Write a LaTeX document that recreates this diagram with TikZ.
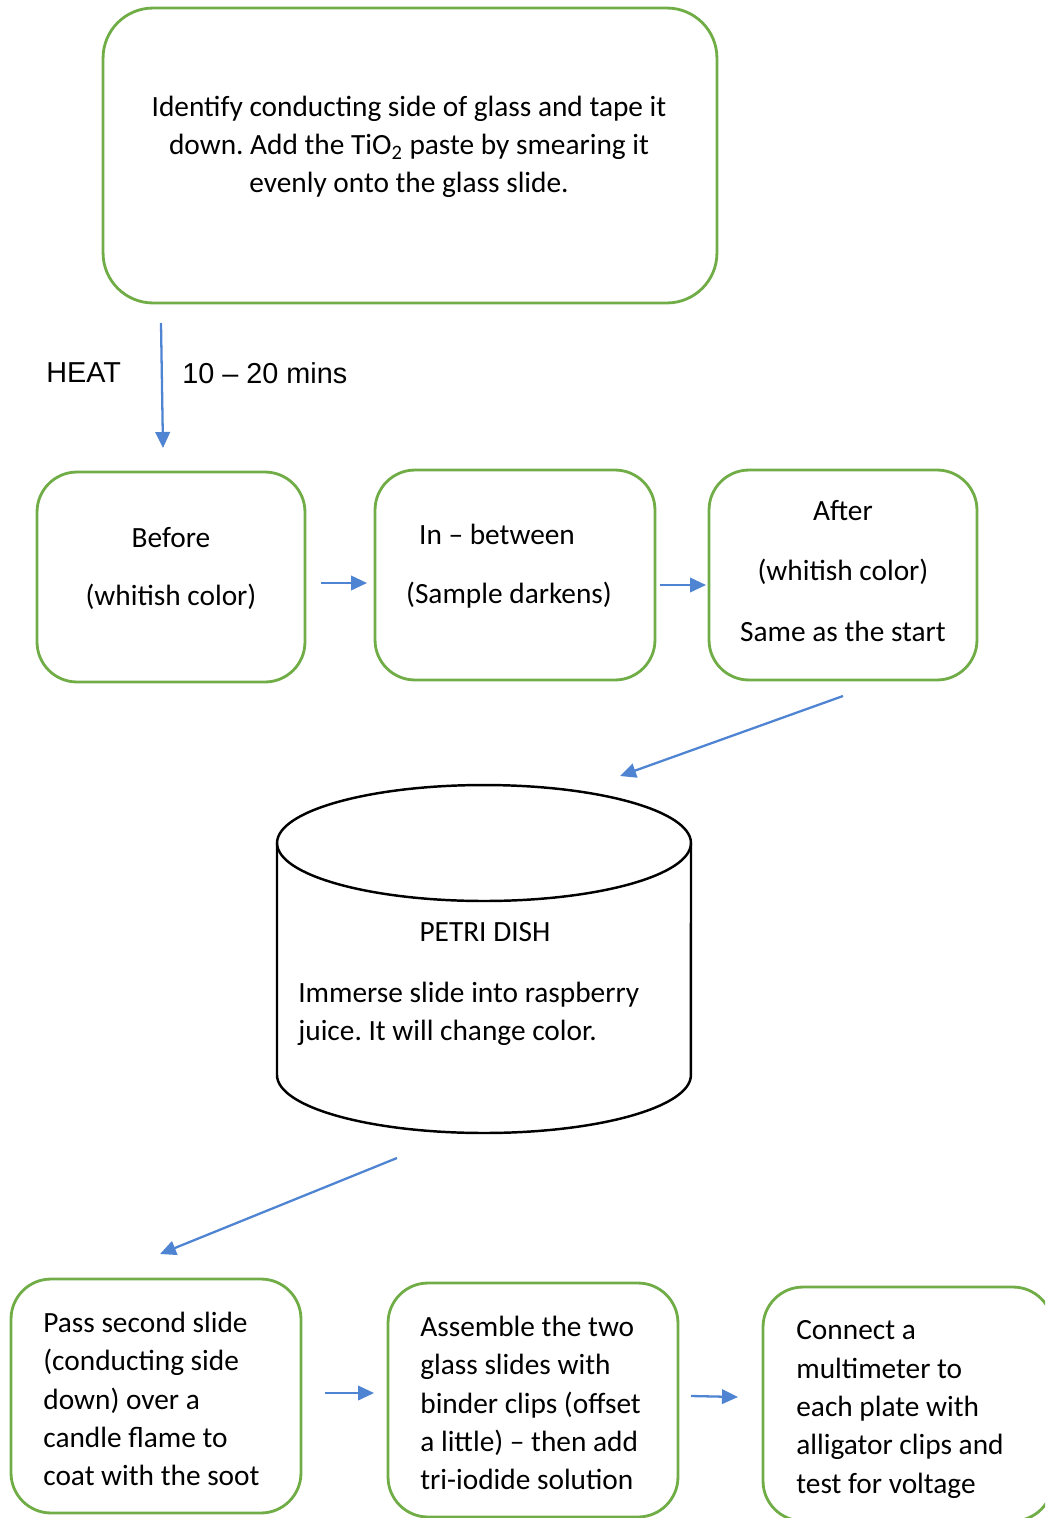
\documentclass[tikz,border=0pt]{standalone}
\usepackage{fontspec}
\setmainfont{Carlito}
\newfontfamily\arialfont{Liberation Sans}
\usetikzlibrary{arrows.meta}

\definecolor{boxgreen}{RGB}{112,173,71}
\definecolor{arrowblue}{RGB}{79,132,210}

\tikzset{
  stepbox/.style={draw=boxgreen, line width=1.6pt, rounded corners=0.8cm, inner sep=0pt},
  flow/.style={draw=arrowblue, line width=1.3pt, -{Triangle[length=0.32cm,width=0.29cm]}},
  txt/.style={font=\fontsize{16.7}{21.8}\selectfont, inner sep=0pt},
  heattxt/.style={font=\arialfont\fontsize{16.4}{19}\selectfont, inner sep=0pt, anchor=west}
}

\frenchspacing

\begin{document}
\begin{tikzpicture}[x=0.02cm,y=-0.02cm]

\clip (0,0) rectangle (1045,1518) ;
\useasboundingbox (0,0) rectangle (1045,1518) ;

% first step
\node [stepbox, rounded corners=1cm, minimum width=12.28cm, minimum height=5.9cm] (prep) at (410,155.5) {} ;
\node [txt, align=center] (prepTxt) at (409,147) {Identify conducting side of glass and tape it\\ down. Add the TiO\textsubscript{2} paste by smearing it\\ evenly onto the glass slide.} ;

\coordinate (heatA) at (161,323) ;
\coordinate (heatB) at (163,448) ;
\draw [flow] (heatA) -- (heatB) ;
\node [heattxt] (heat) at (46,373) {HEAT} ;
\node [heattxt] (mins) at (182,373) {10 – 20 mins} ;

% colour change
\node [stepbox, minimum width=5.36cm, minimum height=4.2cm] (before) at (171,577) {} ;
\node [stepbox, minimum width=5.6cm, minimum height=4.2cm] (between) at (515,575) {} ;
\node [stepbox, minimum width=5.36cm, minimum height=4.2cm] (after) at (843,575) {} ;

\node [txt, align=center] (beforeTxt) at (171,568.5) {Before\\[0.4cm] (whitish color)} ;
\node [txt, align=center] (betweenTxt) at (509,566.5) {In – between\hspace*{0.48cm}\\[0.42cm] (Sample darkens)} ;
\node [txt, align=center] (afterTxt) at (843,571) {After\\[0.44cm] (whitish color)\\[0.44cm] Same as the start} ;

\coordinate (hA) at (321,583) ;
\coordinate (hB) at (367,583) ;
\coordinate (hC) at (660,585) ;
\coordinate (hD) at (706,585) ;
\draw [flow] (hA) -- (hB) ;
\draw [flow] (hC) -- (hD) ;

\coordinate (dA) at (843,696) ;
\coordinate (dB) at (620,776) ;
\draw [flow] (dA) -- (dB) ;

% petri dish
\draw [line width=1.4pt] (484,843) ellipse [x radius=4.14cm, y radius=1.16cm] ;
\draw [line width=1.4pt] (277,843) -- (277,1075) arc [start angle=180, end angle=360, x radius=4.14cm, y radius=1.16cm] -- (691,843) ;
\node [txt] (petri) at (485,932.5) {PETRI DISH} ;
\node [txt, align=left, anchor=west] (petriTxt) at (298,1013.5) {Immerse slide into raspberry\\ juice. It will change color.} ;

\coordinate (dC) at (397,1158) ;
\coordinate (dD) at (160,1254) ;
\draw [flow] (dC) -- (dD) ;

% cell assembly
\node [stepbox, minimum width=5.8cm, minimum height=4.68cm] (soot) at (156,1396) {} ;
\node [stepbox, minimum width=5.8cm, minimum height=4.68cm] (clips) at (533,1400) {} ;
\node [stepbox, minimum width=5.8cm, minimum height=4.68cm] (meter) at (908,1404) {} ;

\node [txt, align=left, anchor=west] (sootTxt) at (43,1399) {Pass second slide\\ (conducting side\\ down) over a\\ candle flame to\\ coat with the soot} ;
\node [txt, align=left, anchor=west] (clipsTxt) at (420,1403) {Assemble the two\\ glass slides with\\ binder clips (offset\\ a little) – then add\\ tri-iodide solution} ;
\node [txt, align=left, anchor=west] (meterTxt) at (796,1409.5) {Connect a\\ multimeter to\\ each plate with\\ alligator clips and\\ test for voltage} ;

\coordinate (hE) at (325,1393) ;
\coordinate (hF) at (374,1393) ;
\coordinate (hG) at (691,1396) ;
\coordinate (hH) at (738,1397) ;
\draw [flow] (hE) -- (hF) ;
\draw [flow] (hG) -- (hH) ;

\end{tikzpicture}
\end{document}
